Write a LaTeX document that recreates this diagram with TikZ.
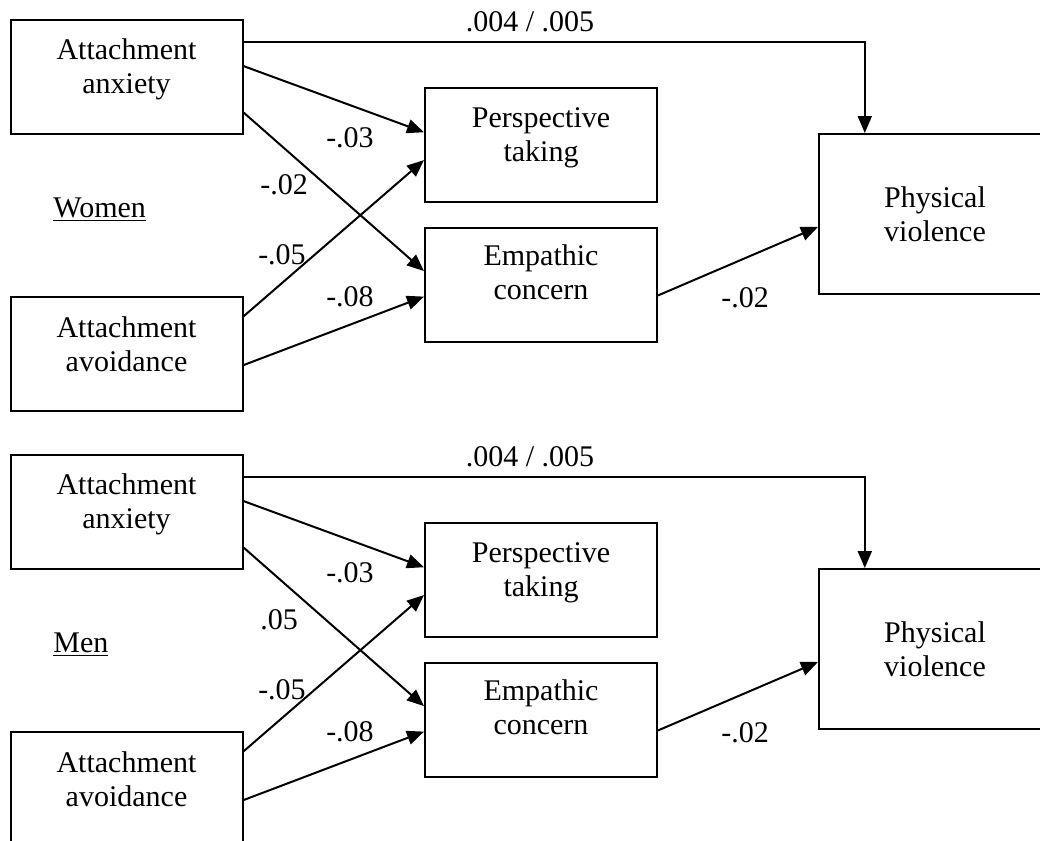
\documentclass[tikz,border=0pt]{standalone}
\usepackage{fontspec}
\setmainfont{Liberation Serif}
\usetikzlibrary{arrows.meta,positioning,calc}
\tikzset{
  varbox/.style={draw, line width=1pt, align=center,
                 minimum width=116pt, minimum height=57pt,
                 inner sep=0pt, text depth=#1},
  varbox/.default=13pt,
  outbox/.style={varbox=0pt, minimum height=80pt},
  coef/.style={inner sep=0pt},
  grplbl/.style={anchor=west, inner sep=0pt},
  arr/.style={-{Triangle[length=8.5pt,width=7pt]}, line width=1pt},
}
\begin{document}
\begin{tikzpicture}[x=0.5pt,y=-0.5pt,font=\fontsize{15}{17}\selectfont]
  \useasboundingbox (0,0) rectangle (1040,841);
  \clip (0,0) rectangle (1040,841);
  \foreach \dy/\panel/\coefa in {0/Women/-.02,435/Men/.05}{
  \begin{scope}[shift={(0,\dy)}]
  \node[varbox=10pt] (anx\panel) at (126.5,76.5) {Attachment\\anxiety};
  \node[varbox=9pt, below=80.5pt of anx\panel] (avo\panel) {Attachment\\avoidance};
  \node[varbox=10pt] (pt\panel) at (541,145) {Perspective\\taking};
  \node[varbox, below=12pt of pt\panel] (ec\panel) {Empathic\\concern};
  \node[outbox] (pv\panel) at (935,214) {Physical\\violence};
  \node[grplbl] (grp\panel) at (53,210) {\underline{\panel}};
  % paths
  \draw[arr] ($(anx\panel.north east)!0.2!(anx\panel.south east)$)
    -| ($(pv\panel.north west)!0.2!(pv\panel.north east)$);
  \draw[arr] ($(anx\panel.north east)!0.41!(anx\panel.south east)$)
    -- ($(pt\panel.north west)!0.39!(pt\panel.south west)$);
  \draw[arr] ($(anx\panel.north east)!0.81!(anx\panel.south east)$)
    -- ($(ec\panel.north west)!0.38!(ec\panel.south west)$);
  \draw[arr] ($(avo\panel.north east)!0.18!(avo\panel.south east)$)
    -- ($(pt\panel.north west)!0.63!(pt\panel.south west)$);
  \draw[arr] ($(avo\panel.north east)!0.6!(avo\panel.south east)$)
    -- ($(ec\panel.north west)!0.6!(ec\panel.south west)$);
  \draw[arr] ($(ec\panel.north east)!0.59!(ec\panel.south east)$)
    -- ($(pv\panel.north west)!0.58!(pv\panel.south west)$);
  % coefficients
  \node[coef] (cdir\panel) at (530,22) {.004 / .005};
  \node[coef] (cap\panel) at (350,138) {-.03};
  \node[coef, anchor=west] (cae\panel) at (260,185) {\coefa};
  \node[coef] (cvp\panel) at (282,255) {-.05};
  \node[coef] (cve\panel) at (350,297) {-.08};
  \node[coef] (cev\panel) at (745,298) {-.02};
  \end{scope}
  }
\end{tikzpicture}
\end{document}
